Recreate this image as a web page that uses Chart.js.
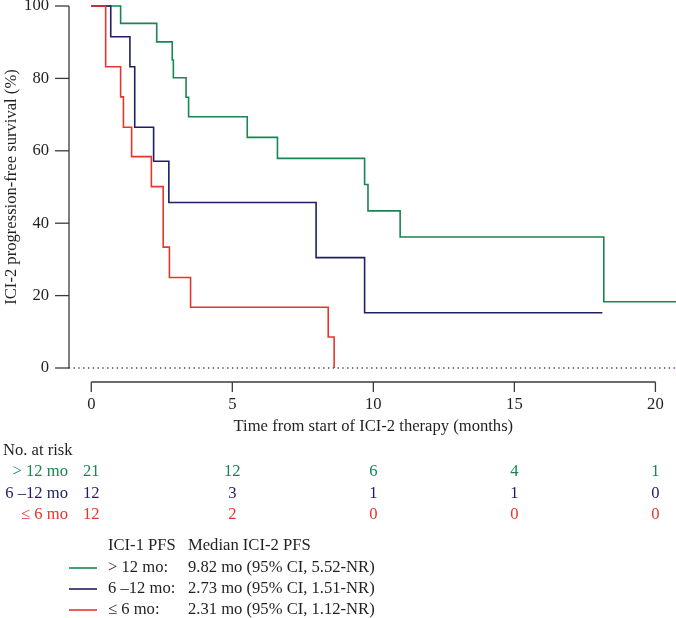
<!DOCTYPE html>
<html>
<head>
<meta charset="utf-8">
<script src="https://cdn.jsdelivr.net/npm/chart.js@4.4.1/dist/chart.umd.min.js"></script>
<style>
  html, body { margin: 0; background: #fff; }
  #wrap { width: 676px; height: 618px; position: relative; }
</style>
</head>
<body>
<div id="wrap"><canvas id="km"></canvas></div>
<script>
// --- DATA ---
const greenT = [0, 1.04, 2.32, 2.87, 2.91, 3.36, 3.45, 5.53, 6.60, 9.69, 9.81, 10.95, 18.17, 20.8];
const greenS = [100, 95.2, 90.1, 85.1, 80.2, 74.8, 69.4, 63.7, 57.9, 50.7, 43.4, 36.2, 18.3, 18.3];

const navyT = [0, 0.69, 1.37, 1.54, 2.21, 2.75, 7.97, 9.69, 18.12];
const navyS = [100, 91.5, 83.2, 66.5, 57.1, 45.7, 30.5, 15.25, 15.25];

const redT = [0, 0.51, 1.04, 1.14, 1.43, 2.13, 2.55, 2.77, 3.52, 8.40, 8.61];
const redS = [100, 83.2, 74.9, 66.5, 58.4, 50.1, 33.4, 25.0, 16.8, 8.55, 0];

const xTicks = [0, 5, 10, 15, 20];
const yTicks = [0, 20, 40, 60, 80, 100];

const groupNames = ['> 12 mo', '6 \u201312 mo', '\u2264 6 mo'];
const riskGreen = [21, 12, 6, 4, 1];
const riskNavy = [12, 3, 1, 1, 0];
const riskRed = [12, 2, 0, 0, 0];
const medians = ['9.82 mo (95% CI, 5.52-NR)', '2.73 mo (95% CI, 1.51-NR)', '2.31 mo (95% CI, 1.12-NR)'];

const GREEN = '#178650';
const NAVY = '#1f1f63';
const RED = '#e8352b';
const INK = '#231f20';
const FONT = '16.6px "Liberation Serif", "Times New Roman", serif';

const toPts = (t, s) => t.map((v, i) => ({ x: v, y: s[i] }));

// axes, risk table and legend drawn with the chart's own scales
const kmDecor = {
    id: 'kmDecor',
    afterDraw(chart) {
        const { ctx, chartArea, scales: { x, y } } = chart;
        ctx.save();
        ctx.strokeStyle = '#3a3a3a';
        ctx.lineWidth = 1.3;
        ctx.fillStyle = INK;
        ctx.font = FONT;

        // y axis
        const ax = chartArea.left;
        ctx.beginPath();
        ctx.moveTo(ax, y.getPixelForValue(100));
        ctx.lineTo(ax, y.getPixelForValue(0));
        ctx.stroke();
        ctx.textAlign = 'right';
        ctx.textBaseline = 'middle';
        yTicks.forEach(v => {
            const py = y.getPixelForValue(v);
            ctx.beginPath();
            ctx.moveTo(ax - 14, py);
            ctx.lineTo(ax, py);
            ctx.stroke();
            ctx.fillText(String(v), ax - 20, py);
        });

        // x axis (only spans 0..20)
        const ay = y.getPixelForValue(0) + 14;
        ctx.beginPath();
        ctx.moveTo(x.getPixelForValue(0), ay);
        ctx.lineTo(x.getPixelForValue(20), ay);
        ctx.stroke();
        ctx.textAlign = 'center';
        xTicks.forEach(v => {
            const px = x.getPixelForValue(v);
            ctx.beginPath();
            ctx.moveTo(px, ay);
            ctx.lineTo(px, ay + 10);
            ctx.stroke();
            ctx.fillText(String(v), px, ay + 23);
        });
        const midX = (x.getPixelForValue(0) + x.getPixelForValue(20)) / 2;
        ctx.fillText('Time from start of ICI-2 therapy (months)', midX, ay + 45);

        // y title
        ctx.save();
        ctx.translate(12, (y.getPixelForValue(0) + y.getPixelForValue(100)) / 2);
        ctx.rotate(-Math.PI / 2);
        ctx.fillText('ICI-2 progression-free survival (%)', 0, 0);
        ctx.restore();

        // number at risk
        ctx.textAlign = 'left';
        ctx.fillText('No. at risk', 3, ay + 69);
        const rows = [riskGreen, riskNavy, riskRed];
        const cols = [GREEN, NAVY, RED];
        rows.forEach((row, i) => {
            const ry = ay + 90 + i * 21.2;
            ctx.fillStyle = cols[i];
            ctx.textAlign = 'right';
            ctx.fillText(groupNames[i], 68, ry);
            ctx.textAlign = 'center';
            row.forEach((n, j) => ctx.fillText(String(n), x.getPixelForValue(xTicks[j]), ry));
        });

        // legend
        ctx.fillStyle = INK;
        ctx.textAlign = 'left';
        ctx.fillText('ICI-1 PFS', 108, 546);
        ctx.fillText('Median ICI-2 PFS', 188, 546);
        medians.forEach((m, i) => {
            const ly = 568 + i * 21;
            ctx.strokeStyle = cols[i];
            ctx.lineWidth = 1.6;
            ctx.beginPath();
            ctx.moveTo(69, ly);
            ctx.lineTo(97, ly);
            ctx.stroke();
            ctx.fillStyle = INK;
            ctx.fillText(groupNames[i] + ':', 108, ly);
            ctx.fillText(m, 188, ly);
        });
        ctx.restore();
    }
};

const lineDs = (label, pts, color) => ({
    label,
    data: pts,
    borderColor: color,
    borderWidth: 1.6,
    pointRadius: 0,
    stepped: true,
    fill: false,
    clip: false
});

new Chart(document.getElementById('km').getContext('2d'), {
    type: 'line',
    data: {
        datasets: [
            {
                label: 'zero',
                data: [{ x: -0.8, y: 0 }, { x: 20.8, y: 0 }],
                borderColor: '#5a3d7a',
                borderWidth: 1.3,
                borderDash: [1.4, 3.4],
                pointRadius: 0,
                clip: false
            },
            lineDs('\u2264 6 mo', toPts(redT, redS), RED),
            lineDs('6 \u201312 mo', toPts(navyT, navyS), NAVY),
            lineDs('> 12 mo', toPts(greenT, greenS), GREEN)
        ]
    },
    options: {
        responsive: true,
        maintainAspectRatio: false,
        animation: false,
        events: [],
        layout: { padding: { left: 69, right: 0, top: 6, bottom: 250 } },
        plugins: { legend: { display: false }, tooltip: { enabled: false } },
        scales: {
            x: { type: 'linear', min: -0.79, max: 20.73, display: false },
            y: { type: 'linear', min: 0, max: 100, display: false }
        }
    },
    plugins: [kmDecor]
});
</script>
</body>
</html>
